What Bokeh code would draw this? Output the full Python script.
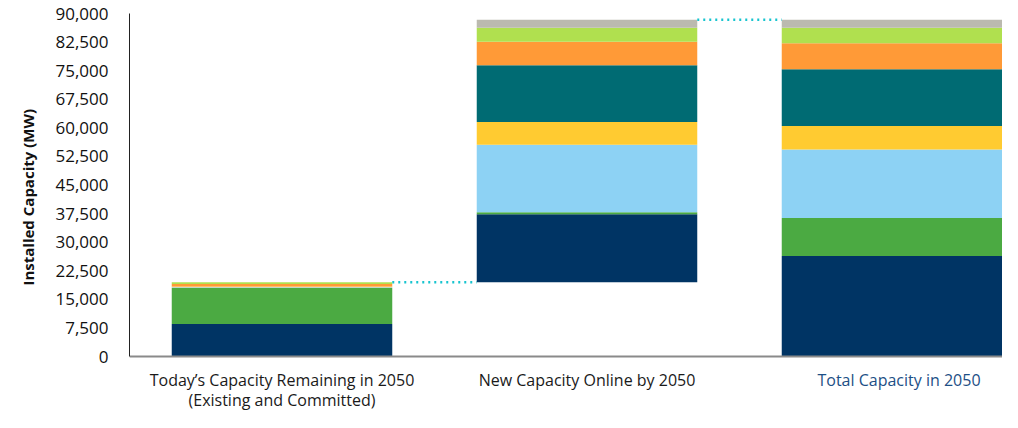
import numpy as np
from bokeh.plotting import figure
from bokeh.models import Range1d, FixedTicker, NumeralTickFormatter, Title
from bokeh.core.properties import value
from bokeh.embed import file_html
from bokeh.resources import INLINE

categories = ["Today\u2019s Capacity Remaining in 2050\n(Existing and Committed)",
              "New Capacity Online by 2050",
              "Total Capacity in 2050"]

series = ["Navy", "Green", "Light Blue", "Yellow", "Teal", "Orange", "Lime", "Gray"]
colors = ["#003464", "#4BAA42", "#8DD2F4", "#FFCB31", "#006B73", "#FF9A37", "#B0E04F", "#BBBAAF"]

existing = [8500, 9450, 250, 200, 0, 650, 400, 0]
new_cap = [17900, 500, 17700, 5950, 14950, 6150, 3650, 2100]
total = [a + b for a, b in zip(existing, new_cap)]

y_ticks = list(range(0, 90001, 7500))

FONT = "Open Sans"
BAR_W = 0.723

# layout (pixels)
TOP = 13
PLOT_H = 343          # 0 .. 90,000
BELOW = 56            # room below zero for the category labels
LEFT = 129
FRAME_W = 873
UNIT_PX = 305
px_per_mw = PLOT_H / 90000.0

p = figure(output_backend="svg", toolbar_location=None,
           frame_width=FRAME_W, frame_height=PLOT_H + BELOW,
           min_border_left=LEFT, min_border_right=0, min_border_top=TOP, min_border_bottom=0,
           x_range=Range1d(0.5, 0.5 + FRAME_W / UNIT_PX),
           y_range=Range1d(-BELOW / px_per_mw, 90000))

xs = [1, 2, 3]
bases = [0, sum(existing), 0]
stacks = [existing, new_cap, total]
for xi, base, vals in zip(xs, bases, stacks):
    cum = base + np.concatenate([[0], np.cumsum(vals)])
    for i, c in enumerate(colors):
        if vals[i] <= 0:
            continue
        p.vbar(x=[xi], width=BAR_W, bottom=[cum[i]], top=[cum[i + 1]],
               fill_color=c, line_color=None)

# connectors
half = BAR_W / 2
top1 = sum(existing)
top_all = sum(total)
p.line(x=[1 + half, 2 - half], y=[top1, top1], line_color="#17C4CF",
       line_width=2.5, line_dash="2 4")
p.line(x=[2 + half, 3 - half], y=[top_all, top_all], line_color="#17C4CF",
       line_width=2.5, line_dash="2 4")

p.grid.visible = False
p.outline_line_color = None
p.background_fill_color = "white"
p.border_fill_color = "white"

# y axis
ya = p.yaxis[0]
ya.ticker = FixedTicker(ticks=y_ticks)
ya.bounds = (0, 90000)
ya.formatter = NumeralTickFormatter(format="0,0")
ya.major_tick_line_color = None
ya.minor_tick_line_color = None
ya.axis_line_color = "#222222"
ya.axis_line_width = 1
ya.major_label_text_font = FONT
ya.major_label_text_font_size = "17px"
ya.major_label_text_color = "#111111"
ya.major_label_standoff = 15

p.add_layout(Title(text="Installed Capacity (MW)", align="left", offset=127,
                   standoff=29, text_font=FONT, text_font_size="15px",
                   text_font_style="bold", text_color="#111111"), "left")

# x axis at zero
xa = p.xaxis[0]
xa.fixed_location = 0
xa.ticker = FixedTicker(ticks=xs)
xa.major_label_overrides = {1: categories[0], 2: categories[1], 3: " "}
xa.major_tick_line_color = None
xa.minor_tick_line_color = None
xa.axis_line_color = "#8A8A8A"
xa.axis_line_width = 2
xa.major_label_text_font = FONT
xa.major_label_text_font_size = "16px"
xa.major_label_text_line_height = 0.95
xa.major_label_text_color = "#1a1a1a"
xa.major_label_standoff = 6

p.text(x=[3], y=[-23.5 / px_per_mw], text=[categories[2]], text_font=value(FONT),
       text_font_size="16px", text_color="#1D4F86", text_align="center",
       text_baseline="middle", x_offset=7)

open("out.html", "w").write(file_html(p, INLINE))
